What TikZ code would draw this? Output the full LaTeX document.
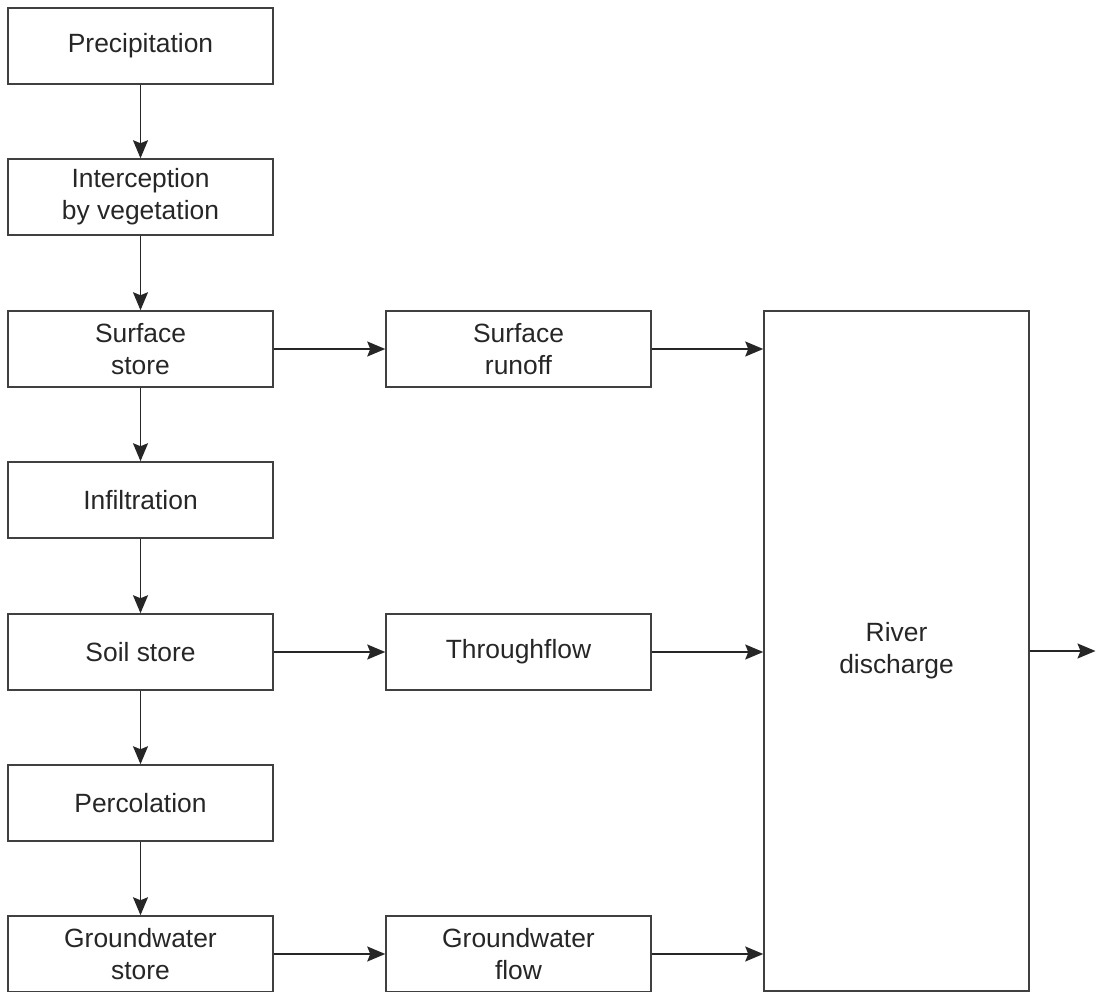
\documentclass[tikz,border=0pt]{standalone}
\usepackage{fontspec}
\setmainfont{Liberation Sans}
\usetikzlibrary{arrows.meta}
\begin{document}
\begin{tikzpicture}[x=1pt,y=-1pt,
  box/.style={draw=black!75, line width=1.5pt, minimum width=265pt, minimum height=76pt,
    inner sep=0pt, align=center, font=\fontsize{26.4}{31.7}\selectfont, text=black!85},
  flow/.style={draw=black!85, line width=1.7pt, -{Stealth[length=18pt,width=15pt,inset=3pt]}}]
\useasboundingbox (0,0) rectangle (1096,992);
\node[box] (prec) at (140.5,46) {Precipitation};
\node[box] (inter) at (140.5,197) {Interception\\by vegetation};
\node[box] (surf) at (140.5,349) {Surface\\store};
\node[box] (infil) at (140.5,500) {Infiltration};
\node[box] (soil) at (140.5,652) {Soil store};
\node[box] (perc) at (140.5,803) {Percolation};
\node[box] (gws) at (140.5,954) {Groundwater\\store};
\node[box] (runoff) at (518.5,349) {Surface\\runoff};
\node[box] (through) at (518.5,652) {Throughflow};
\node[box] (gwf) at (518.5,954) {Groundwater\\flow};
\node[box, minimum height=680pt] (river) at (896.5,651) {River\\discharge};
\coordinate (out) at (1095.5,651);
\draw[flow] (prec) -- (inter);
\draw[flow] (inter) -- (surf);
\draw[flow] (surf) -- (infil);
\draw[flow] (infil) -- (soil);
\draw[flow] (soil) -- (perc);
\draw[flow] (perc) -- (gws);
\draw[flow] (surf) -- (runoff);
\draw[flow] (soil) -- (through);
\draw[flow] (gws) -- (gwf);
\draw[flow] (runoff.east) -- (runoff.east -| river.west);
\draw[flow] (through.east) -- (through.east -| river.west);
\draw[flow] (gwf.east) -- (gwf.east -| river.west);
\draw[flow] (river.east) -- (out);
\end{tikzpicture}
\end{document}
